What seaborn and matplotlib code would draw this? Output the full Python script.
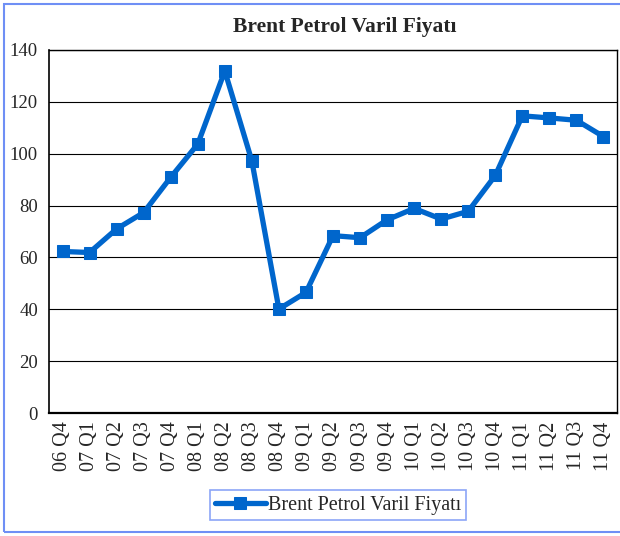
import numpy as np
import pandas as pd
import matplotlib
matplotlib.use("Agg")
import matplotlib.pyplot as plt
import seaborn as sns
from matplotlib.patches import Rectangle
from matplotlib.ticker import FixedLocator

# ---------------------------
# Data
# ---------------------------
quarters = ["06 Q4", "07 Q1", "07 Q2", "07 Q3", "07 Q4", "08 Q1", "08 Q2",
            "08 Q3", "08 Q4", "09 Q1", "09 Q2", "09 Q3", "09 Q4", "10 Q1",
            "10 Q2", "10 Q3", "10 Q4", "11 Q1", "11 Q2", "11 Q3", "11 Q4"]
brent = [62.3, 61.9, 71.0, 77.3, 90.9, 103.7, 131.9,
         97.2, 40.1, 46.5, 68.4, 67.6, 74.5, 78.9,
         74.8, 77.8, 91.6, 114.6, 113.8, 112.9, 106.6]
series_name = "Brent Petrol Varil Fiyatı"
y_ticks = [0, 20, 40, 60, 80, 100, 120, 140]

df = pd.DataFrame({"quarter": quarters, "price": brent, "series": series_name})

# ---------------------------
# Style
# ---------------------------
sns.set_theme(style="white")
plt.rcParams["font.family"] = ["Liberation Serif", "DejaVu Serif"]
line_blue = "#0066cc"
frame_blue = "#6f8ff5"

fig = plt.figure(figsize=(6.2, 5.36), dpi=100)
ax = fig.add_axes([49 / 620, 1 - 413 / 536, (617 - 49) / 620, (413 - 50) / 536])

sns.lineplot(data=df, x="quarter", y="price", hue="series", sort=False,
             palette=[line_blue], marker="s", markersize=8, linewidth=3.8,
             markeredgecolor=line_blue, ax=ax)

# ---------------------------
# Axes
# ---------------------------
ax.set_xlim(-0.5, len(quarters) - 0.5)
ax.set_ylim(0, 140)
ax.set_yticks(y_ticks)
ax.set_xticks(range(len(quarters)))
ax.set_xticklabels(quarters, rotation=90, fontsize=14.5)
ax.xaxis.set_minor_locator(FixedLocator(np.arange(-0.5, len(quarters), 1)))
ax.tick_params(axis="x", which="major", length=0, pad=6)
ax.tick_params(axis="x", which="minor", length=5, width=1, color="black", direction="out")
ax.tick_params(axis="y", length=5, width=1, color="black", direction="out", labelsize=13.5, pad=3)
ax.set_xlabel("")
ax.set_ylabel("")
ax.yaxis.grid(True, color="black", linewidth=0.8)
ax.set_axisbelow(True)
for side in ["top", "right", "left", "bottom"]:
    ax.spines[side].set_visible(True)
    ax.spines[side].set_color("black")
    ax.spines[side].set_linewidth(1.0)
ax.spines["bottom"].set_linewidth(1.6)
ax.spines["left"].set_linewidth(1.2)

fig.text(345 / 620, 1 - 27 / 536, series_name, ha="center", va="center",
         fontsize=15.5, fontweight="bold")

# ---------------------------
# Legend
# ---------------------------
handles, labels = ax.get_legend_handles_labels()
leg = ax.legend(handles, labels, loc="center", bbox_to_anchor=(338 / 620, 1 - 505 / 536),
                bbox_transform=fig.transFigure, fontsize=14.5, frameon=True, fancybox=False,
                handlelength=2.5, handletextpad=0.1, borderpad=0.25, borderaxespad=0)
leg.get_frame().set_edgecolor(frame_blue)
leg.get_frame().set_linewidth(1.2)

# outer border
fig.patches.append(Rectangle((4 / 620, 4 / 536), 620 / 620, 1 - 8 / 536,
                             transform=fig.transFigure, fill=False,
                             edgecolor=frame_blue, linewidth=1.5, zorder=-1))

fig.savefig("out.png", dpi=100)
